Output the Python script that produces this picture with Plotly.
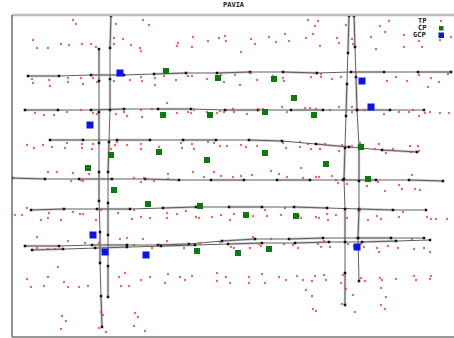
import plotly.graph_objects as go

# ---- Tie points (TP), pixel-like image coordinates ----
tp_points = [
    (73,20),(76,24),(33,40),(37,48),(48,48),(61,44),(69,45),(82,44),(91,44),(96,47),(116,24),(143,20),(149,25),
    (114,38),(123,39),(114,44),(131,45),(140,48),(141,51),(32,79),(33,83),(49,80),(50,86),(68,78),(68,82),(81,78),
    (83,84),(93,78),(97,82),(114,81),(130,80),(141,77),(142,81),(35,113),(44,115),(54,115),(67,112),(81,110),
    (93,113),(97,114),(116,114),(124,112),(127,116),(141,110),(142,117),(152,109),
    (27,145),(34,148),(43,145),(52,147),(65,148),(67,143),(82,144),(82,148),(93,144),(92,149),(115,145),(117,142),
    (111,149),(127,145),(141,144),(141,149),(48,172),(57,172),(73,173),(89,174),(71,181),(81,180),(83,181),(134,178),
    (144,178),(141,182),(27,208),(15,215),(22,215),(41,220),(49,213),(48,218),(61,220),(73,212),(80,214),(83,214),
    (96,220),(101,210),(118,213),(134,210),(132,219),(141,217),
    (37,237),(68,241),(85,243),(99,243),(120,239),(127,238),(143,239),(134,245),(37,248),(48,249),(55,249),(152,248),
    (58,267),(27,279),(31,287),(44,286),(48,277),(64,282),(68,287),(79,287),(88,286),(125,273),(119,277),(121,286),
    (129,286),(141,280),(150,277),(62,316),(66,321),(61,329),(101,312),(103,315),(99,328),(106,332),(135,313),
    (138,317),(134,326),(145,331),
    (193,37),(225,36),(219,38),(226,41),(208,41),(178,43),(177,46),(192,47),(251,39),(255,44),(269,37),(276,42),
    (285,34),(289,41),(306,38),(241,52),(155,78),(164,76),(155,85),(176,80),(188,76),(192,76),(207,79),(221,75),
    (224,82),(235,75),(240,85),(257,80),(251,73),(273,76),(283,78),(284,81),(167,103),(177,113),(188,112),(191,113),
    (207,112),(217,113),(220,111),(224,112),(233,109),(234,112),(247,114),(258,109),(263,109),(282,107),(287,112),
    (194,110),
    (159,147),(181,143),(182,148),(192,144),(194,149),(208,142),(214,143),(220,146),(227,146),(241,145),(246,147),
    (257,146),(283,143),(286,148),(300,147),(308,144),(168,174),(193,172),(214,172),(221,176),(233,177),(241,176),
    (252,175),(204,177),(271,171),(279,174),(287,177),(301,168),(303,178),(154,181),(168,179),(150,218),(167,213),
    (167,218),(177,214),(186,211),(196,217),(199,218),(212,217),(221,215),(230,220),(234,214),(253,216),(265,210),
    (267,216),(281,215),(285,208),(299,216),(301,218),
    (167,241),(184,248),(200,243),(220,242),(231,247),(234,248),(250,248),(253,237),(259,244),(261,246),(271,239),
    (284,244),(293,245),(298,248),(168,274),(165,283),(180,277),(185,280),(192,276),(217,273),(217,281),(226,277),
    (230,283),(249,277),(249,283),(262,274),(265,283),(279,277),(286,280),(297,276),(303,280),(306,290),
    (308,20),(318,21),(315,26),(346,25),(380,26),(389,21),(313,34),(337,38),(352,39),(339,43),(353,44),(371,37),
    (385,32),(404,35),(419,41),(440,40),(451,37),(320,46),(376,49),(404,47),(422,47),(315,73),(321,74),(311,77),
    (321,77),(332,79),(341,77),(356,73),(387,81),(396,77),(407,81),(419,75),(428,87),(431,78),(439,82),(448,74),
    (305,108),(310,108),(316,109),(330,110),(339,107),(352,107),(364,110),(384,114),(399,112),(409,112),(413,110),
    (419,116),(425,113),(430,112),(440,113),(449,113),(352,112),
    (300,142),(311,149),(320,149),(325,144),(339,151),(342,145),(352,146),(360,143),(379,144),(375,149),(386,153),
    (393,149),(410,146),(418,146),(411,152),(419,151),(316,177),(319,177),(332,176),(336,180),(338,183),(347,184),
    (378,182),(367,186),(412,175),(399,185),(402,189),(385,191),(415,189),(420,190),(316,217),(319,218),(328,220),
    (327,214),(336,215),(347,218),(360,210),(368,220),(377,216),(381,219),(399,217),(403,212),(427,217),(431,219),
    (436,219),(447,219),
    (318,244),(321,247),(330,247),(324,241),(348,244),(354,246),(361,244),(364,247),(377,248),(379,252),(388,246),
    (398,248),(412,239),(414,249),(424,248),(430,252),(312,281),(315,276),(324,275),(326,280),(341,283),(343,275),
    (361,278),(365,281),(380,278),(382,280),(396,279),(414,276),(416,280),(431,276),(430,279),(312,296),(346,289),
    (353,295),(381,288),(386,297),(342,304),(381,305),(385,309),(313,309),(316,311),(355,312),
]

# ---- Check points (CP) ----
cp_x = [166, 218, 274, 294, 163, 210, 265, 314, 361, 111, 159, 207, 265, 326, 88, 368, 114, 148, 200, 246, 296, 197, 238, 269]
cp_y = [71, 78, 79, 98, 115, 115, 112, 115, 147, 155, 152, 160, 153, 164, 168, 179, 190, 204, 206, 215, 216, 251, 253, 249]

# ---- Ground control points (GCP) ----
gcp_x = [120, 362, 371, 90, 93, 105, 146, 357]
gcp_y = [73, 81, 107, 125, 235, 252, 255, 247]

# ---- Flight strips (projection-centre positions) ----
strip_h1 = [(28,76),(59,76),(91,75),(124,75),(154,74),(186,73),(217,73),(250,72),(283,72),(317,73),(351,72),(384,72),(418,72),(451,72)]
strip_h2 = [(25,110),(58,110),(91,110),(124,109),(158,109),(191,109),(225,110),(258,110),(291,110),(323,110),(357,110),(390,110),(424,110)]
strip_h3 = [(50,140),(83,140),(117,140),(150,140),(183,140),(216,140),(249,140),(282,141),(316,144),(349,147),(382,150),(417,152)]
strip_h4 = [(12,178),(45,179),(79,179),(112,179),(145,179),(179,180),(211,180),(244,180),(277,180),(310,180),(343,180),(376,180),(409,180),(443,181)]
strip_h5 = [(31,210),(64,209),(97,209),(130,209),(163,208),(196,207),(229,207),(262,207),(294,207),(327,208),(359,209),(393,210),(426,210)]
strip_h6 = [(25,246),(59,246),(92,245),(127,245),(158,245),(189,244),(222,241),(255,239),(289,239),(323,238),(358,238),(391,238),(424,238)]
strip_h7 = [(32,250),(63,249),(95,248),(127,247),(161,246),(195,245),(228,244),(262,243),(295,243),(329,242),(362,242),(396,241),(430,240)]
strip_v1 = [(111,16),(110,48),(110,79),(110,110),(109,142),(108,172),(108,203),(108,235),(108,266),(108,297)]
strip_v2 = [(99,49),(99,81),(99,112),(99,143),(99,172),(99,201),(100,232),(100,263),(101,296),(102,327)]
strip_v3 = [(349,16),(348,53),(347,84),(346,116),(345,148),(344,179),(345,209),(345,242),(345,273),(345,305)]
strip_v4 = [(354,16),(355,47),(356,77),(357,110),(359,146),(359,181),(359,210),(358,238),(359,281)]
strips = [strip_h1, strip_h2, strip_h3, strip_h4, strip_h5, strip_h6, strip_h7,
          strip_v1, strip_v2, strip_v3, strip_v4]

title_text = "PAVIA"
legend_labels = ["TP", "CP", "GCP"]

W, H = 454, 338
L, R, T, B = 12, 0, 15, 1
X0, X1 = 12, 454
Y0, Y1 = 337, 15

fig = go.Figure()

# strips: light gray under-segments on alternating pieces, dark line on top
for s in strips:
    for i in range(0, len(s) - 1, 2):
        fig.add_trace(go.Scatter(
            x=[s[i][0], s[i + 1][0]], y=[s[i][1], s[i + 1][1]], mode="lines",
            line=dict(color="#c8c8c8", width=2.5), hoverinfo="skip", showlegend=False))
for s in strips:
    fig.add_trace(go.Scatter(
        x=[p[0] for p in s], y=[p[1] for p in s], mode="lines+markers",
        line=dict(color="#5e5e5e", width=1),
        marker=dict(symbol="square", size=2.5, color="#111111"),
        hoverinfo="skip", showlegend=False))

fig.add_trace(go.Scatter(
    x=[p[0] for p in tp_points], y=[p[1] for p in tp_points], mode="markers",
    marker=dict(symbol="circle", size=2.5, color="rgba(228,60,60,0.75)", line=dict(width=0)),
    name="TP", showlegend=False))
fig.add_trace(go.Scatter(
    x=cp_x, y=cp_y, mode="markers",
    marker=dict(symbol="square", size=6, color="#0c7a0c", line=dict(width=0)),
    name="CP", showlegend=False))
fig.add_trace(go.Scatter(
    x=gcp_x, y=gcp_y, mode="markers",
    marker=dict(symbol="square", size=7, color="#0a14e6", line=dict(width=0)),
    name="GCP", showlegend=False))


def px(x):
    return (x - L) / (W - L - R)


def py(y):
    return (H - B - y) / (H - T - B)


font = dict(family="DejaVu Sans Mono", size=7, color="#222222")
annotations = [dict(text="<b>" + title_text + "</b>", x=px(234), y=py(5), xref="paper", yref="paper",
                    showarrow=False, font=font, xanchor="center", yanchor="middle")]
leg_y = [21, 28, 35]
for lab, yy in zip(legend_labels, leg_y):
    annotations.append(dict(text="<b>" + lab + "</b>", x=px(428), y=py(yy), xref="paper", yref="paper",
                            showarrow=False, font=font, xanchor="right", yanchor="middle"))

shapes = [
    dict(type="line", xref="paper", yref="paper", x0=0, x1=1, y0=1, y1=1, line=dict(color="#bdbdbd", width=2.5)),
    dict(type="line", xref="paper", yref="paper", x0=0, x1=0, y0=0, y1=1, line=dict(color="#6a6a6a", width=1.5)),
    dict(type="line", xref="paper", yref="paper", x0=0, x1=1, y0=0, y1=0, line=dict(color="#777777", width=1.5)),
    # legend swatches
    dict(type="rect", xref="paper", yref="paper", x0=px(440), x1=px(442), y0=py(22), y1=py(20),
         fillcolor="rgba(228,60,60,0.8)", line=dict(width=0)),
    dict(type="rect", xref="paper", yref="paper", x0=px(439), x1=px(443.5), y0=py(30.5), y1=py(26),
         fillcolor="#0c7a0c", line=dict(width=0)),
    dict(type="rect", xref="paper", yref="paper", x0=px(438.5), x1=px(444), y0=py(38), y1=py(32.5),
         fillcolor="#0a14e6", line=dict(width=0)),
]

fig.update_layout(
    width=W, height=H,
    margin=dict(l=L, r=R, t=T, b=B, pad=0, autoexpand=False),
    paper_bgcolor="white", plot_bgcolor="white",
    xaxis=dict(range=[X0, X1], visible=False, showgrid=False, zeroline=False),
    yaxis=dict(range=[Y0, Y1], visible=False, showgrid=False, zeroline=False),
    annotations=annotations, shapes=shapes,
    showlegend=False,
)

fig.write_html("out.html", config={"displayModeBar": False},
               post_script="document.body.style.margin='0';document.body.style.overflow='hidden';")
